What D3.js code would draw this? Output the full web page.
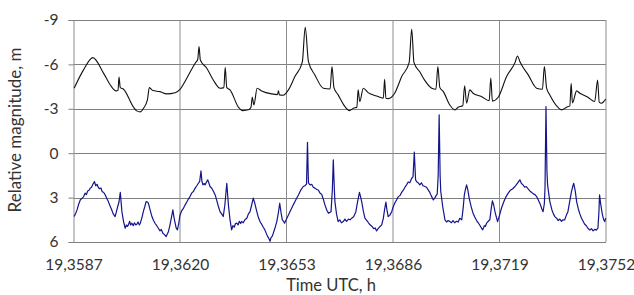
<!doctype html>
<meta charset="utf-8">
<style>
  body { margin: 0; background: #fff; }
  text { font-family: Lato, "Open Sans", sans-serif; fill: #333; }
</style>
<body>
<script src="https://cdn.jsdelivr.net/npm/d3@7"></script>
<script>
// tick values of both axes
var xTicks = [19.3587, 19.3620, 19.3653, 19.3686, 19.3719, 19.3752];
var yTicks = [-9, -6, -3, 0, 3, 6];

// upper trace (black): [time UTC h, relative magnitude m]
var upper = [
  [19.35872,-4.39],[19.35901,-5.63],[19.35930,-6.46],[19.35963,-5.41],[19.35984,-4.61],[19.36002,-4.21],
  [19.36008,-4.25],[19.36011,-5.14],[19.36015,-4.43],[19.36025,-4.32],[19.36056,-3.11],[19.36066,-2.86],
  [19.36077,-2.79],[19.36087,-3.04],[19.36099,-3.6],[19.36105,-4.43],[19.36116,-4.23],[19.36138,-4.16],
  [19.36159,-4.01],[19.36185,-4.09],[19.36200,-4.32],[19.36221,-5.07],[19.36247,-6.08],[19.36255,-6.35],
  [19.36259,-7.2],[19.36263,-6.3],[19.36283,-5.74],[19.36303,-4.95],[19.36324,-4.39],[19.36336,-4.43],
  [19.36340,-5.81],[19.36345,-4.43],[19.36355,-4.28],[19.36381,-3.11],[19.36394,-2.88],[19.36412,-2.93],
  [19.36420,-3.11],[19.36424,-3.78],[19.36429,-3.26],[19.36439,-4.39],[19.36453,-4.21],[19.36484,-4.01],
  [19.36502,-3.96],[19.36505,-4.21],[19.36508,-3.94],[19.36520,-3.92],[19.36536,-4.28],[19.36556,-5.18],
  [19.36579,-6.15],[19.36588,-8.51],[19.36598,-6.19],[19.36618,-5.29],[19.36644,-4.39],[19.36665,-4.34],
  [19.36671,-5.85],[19.36677,-4.43],[19.36690,-3.94],[19.36711,-3.15],[19.36725,-2.88],[19.36737,-3.04],
  [19.36748,-3.11],[19.36752,-4.28],[19.36757,-3.49],[19.36768,-4.39],[19.36783,-4.09],[19.36809,-3.87],
  [19.36830,-3.72],[19.36834,-5.0],[19.36838,-3.71],[19.36845,-3.69],[19.36866,-4.09],[19.36887,-5.18],
  [19.36910,-6.12],[19.36918,-8.38],[19.36925,-6.12],[19.36943,-5.5],[19.36959,-4.9],[19.36980,-4.39],
  [19.36993,-4.32],[19.36999,-5.85],[19.37005,-4.45],[19.37016,-4.16],[19.37036,-3.26],[19.37052,-2.93],
  [19.37062,-3.11],[19.37076,-3.2],[19.37082,-4.55],[19.37088,-3.38],[19.37098,-4.28],[19.37108,-4.05],
  [19.37134,-3.83],[19.37158,-3.55],[19.37163,-5.07],[19.37168,-3.52],[19.37186,-3.78],[19.37212,-5.18],
  [19.37238,-6.12],[19.37246,-6.57],[19.37253,-6.19],[19.37279,-5.29],[19.37305,-4.39],[19.37323,-4.32],
  [19.37329,-5.85],[19.37336,-4.4],[19.37346,-3.94],[19.37367,-3.2],[19.37382,-2.93],[19.37398,-3.11],
  [19.37408,-3.2],[19.37412,-4.73],[19.37416,-3.4],[19.37429,-4.21],[19.37439,-4.05],[19.37464,-3.78],
  [19.37485,-3.49],[19.37494,-4.95],[19.37499,-3.45],[19.37506,-3.38],[19.37519,-3.65]
];

// lower trace (blue)
var lower = [
  [19.35872,4.28],[19.35877,4.05],[19.35881,3.83],[19.35886,3.45],[19.35891,3.16],[19.35896,3.05],[19.35901,2.95],
  [19.35906,2.7],[19.35910,2.8],[19.35914,2.55],[19.35918,2.5],[19.35922,2.36],[19.35926,2.3],[19.35930,2.1],
  [19.35935,1.92],[19.35939,2.2],[19.35943,2.1],[19.35947,2.32],[19.35951,2.4],[19.35955,2.35],[19.35959,2.6],
  [19.35963,2.64],[19.35968,2.8],[19.35973,3.05],[19.35978,3.27],[19.35983,3.55],[19.35988,3.8],[19.35993,4.1],
  [19.35999,4.28],[19.36003,3.95],[19.36007,3.6],[19.36011,3.3],[19.36015,2.64],[19.36020,3.95],[19.36025,4.6],
  [19.36030,5.07],[19.36034,4.85],[19.36037,4.95],[19.36040,4.84],[19.36044,4.6],[19.36047,4.85],[19.36051,4.73],
  [19.36055,4.9],[19.36059,4.7],[19.36063,4.85],[19.36066,4.8],[19.36070,4.65],[19.36074,4.85],[19.36077,4.73],
  [19.36082,4.35],[19.36087,3.9],[19.36091,3.6],[19.36095,3.27],[19.36099,3.3],[19.36102,3.38],[19.36107,3.8],
  [19.36113,4.28],[19.36118,4.55],[19.36123,4.75],[19.36128,4.9],[19.36133,5.07],[19.36138,5.25],[19.36142,5.15],
  [19.36147,5.41],[19.36152,5.5],[19.36157,5.63],[19.36161,5.45],[19.36164,5.3],[19.36168,4.95],[19.36172,4.5],
  [19.36178,3.83],[19.36181,4.3],[19.36185,4.73],[19.36188,5.05],[19.36192,5.18],[19.36196,4.75],[19.36200,4.17],
  [19.36205,3.9],[19.36210,3.75],[19.36216,3.49],[19.36221,3.3],[19.36226,3.1],[19.36231,2.93],[19.36236,2.7],
  [19.36241,2.6],[19.36247,2.36],[19.36252,2.2],[19.36257,2.03],[19.36261,1.9],[19.36265,1.2],[19.36268,1.9],
  [19.36271,2.14],[19.36275,2.05],[19.36278,2.14],[19.36282,1.95],[19.36286,1.8],[19.36290,2.05],[19.36293,2.25],
  [19.36298,2.35],[19.36303,2.55],[19.36309,2.82],[19.36314,3.2],[19.36319,3.6],[19.36324,3.95],[19.36329,4.1],
  [19.36334,4.28],[19.36339,3.5],[19.36345,2.03],[19.36350,3.49],[19.36355,4.5],[19.36360,5.18],[19.36364,4.9],
  [19.36368,5.0],[19.36372,4.75],[19.36376,4.73],[19.36380,4.85],[19.36384,4.6],[19.36388,4.75],[19.36391,4.62],
  [19.36396,4.7],[19.36401,4.5],[19.36407,4.4],[19.36412,4.1],[19.36417,3.95],[19.36422,3.5],[19.36427,3.04],
  [19.36432,3.4],[19.36438,3.95],[19.36443,4.35],[19.36448,4.62],[19.36453,4.8],[19.36458,5.0],[19.36463,5.18],
  [19.36467,5.4],[19.36471,5.6],[19.36475,5.75],[19.36479,5.95],[19.36482,5.7],[19.36486,5.6],[19.36489,5.41],
  [19.36495,5.0],[19.36500,4.62],[19.36505,4.0],[19.36509,3.38],[19.36513,4.0],[19.36517,4.5],[19.36521,4.6],
  [19.36524,4.73],[19.36530,4.45],[19.36536,4.17],[19.36543,3.85],[19.36551,3.49],[19.36559,3.15],[19.36567,2.82],
  [19.36574,2.5],[19.36582,2.25],[19.36587,2.2],[19.36592,2.09],[19.36595,-0.74],[19.36598,2.0],[19.36603,2.15],
  [19.36608,2.1],[19.36613,2.3],[19.36618,2.36],[19.36624,2.45],[19.36629,2.5],[19.36634,2.7],[19.36639,2.77],
  [19.36644,3.1],[19.36649,3.49],[19.36655,3.85],[19.36660,4.05],[19.36664,4.0],[19.36668,3.95],[19.36672,2.5],
  [19.36675,0.45],[19.36678,2.3],[19.36680,3.27],[19.36685,4.1],[19.36690,4.62],[19.36695,4.5],[19.36700,4.7],
  [19.36706,4.62],[19.36711,4.45],[19.36716,4.6],[19.36722,4.45],[19.36727,4.5],[19.36732,4.39],[19.36738,4.3],
  [19.36745,3.95],[19.36750,3.3],[19.36756,2.64],[19.36759,2.9],[19.36763,3.27],[19.36768,3.9],[19.36773,4.39],
  [19.36779,4.55],[19.36784,4.7],[19.36789,4.84],[19.36795,4.95],[19.36800,5.1],[19.36805,5.05],[19.36809,5.25],
  [19.36814,5.1],[19.36820,4.95],[19.36825,4.84],[19.36830,4.4],[19.36834,3.8],[19.36838,3.31],[19.36841,3.8],
  [19.36845,4.28],[19.36850,4.2],[19.36856,3.95],[19.36861,3.6],[19.36866,3.35],[19.36871,3.16],[19.36876,2.95],
  [19.36882,2.85],[19.36887,2.64],[19.36892,2.5],[19.36897,2.3],[19.36902,2.14],[19.36907,1.95],[19.36912,2.0],
  [19.36918,1.69],[19.36922,1.6],[19.36926,-0.07],[19.36930,1.8],[19.36934,1.95],[19.36938,2.0],[19.36943,2.14],
  [19.36948,2.0],[19.36953,2.2],[19.36959,2.25],[19.36964,2.3],[19.36969,2.48],[19.36974,2.65],[19.36979,2.9],
  [19.36985,3.16],[19.36990,3.0],[19.36994,2.85],[19.36997,2.77],[19.37000,1.5],[19.37003,-2.59],[19.37006,1.5],
  [19.37008,2.59],[19.37014,3.6],[19.37021,4.5],[19.37026,4.65],[19.37031,4.55],[19.37036,4.62],[19.37041,4.7],
  [19.37046,4.55],[19.37051,4.7],[19.37057,4.6],[19.37062,4.65],[19.37067,4.4],[19.37073,4.5],[19.37077,3.8],
  [19.37081,2.82],[19.37085,2.4],[19.37088,2.14],[19.37092,2.5],[19.37096,3.04],[19.37102,3.6],[19.37108,4.05],
  [19.37113,4.3],[19.37119,4.55],[19.37125,4.73],[19.37130,4.9],[19.37134,5.05],[19.37138,5.18],[19.37143,4.9],
  [19.37146,4.95],[19.37150,4.73],[19.37155,4.6],[19.37160,4.5],[19.37164,3.8],[19.37168,3.22],[19.37172,3.5],
  [19.37176,3.95],[19.37180,4.3],[19.37184,4.62],[19.37190,4.2],[19.37196,3.72],[19.37203,3.3],[19.37210,2.95],
  [19.37217,2.7],[19.37224,2.5],[19.37231,2.4],[19.37238,2.25],[19.37243,2.1],[19.37248,1.95],[19.37253,1.8],
  [19.37258,2.05],[19.37263,2.14],[19.37268,2.3],[19.37273,2.25],[19.37278,2.4],[19.37284,2.55],[19.37290,2.65],
  [19.37295,2.75],[19.37300,2.8],[19.37305,2.93],[19.37311,3.2],[19.37317,3.49],[19.37321,3.75],[19.37325,3.95],
  [19.37329,3.4],[19.37331,2.36],[19.37334,-3.15],[19.37337,1.2],[19.37339,2.14],[19.37343,2.8],[19.37346,3.27],
  [19.37352,3.8],[19.37357,4.1],[19.37362,4.3],[19.37367,4.39],[19.37372,4.55],[19.37377,4.45],[19.37382,4.6],
  [19.37387,4.5],[19.37392,4.5],[19.37397,4.2],[19.37402,3.95],[19.37408,3.2],[19.37413,2.59],[19.37417,2.25],
  [19.37420,2.03],[19.37425,2.6],[19.37429,3.27],[19.37434,3.75],[19.37439,4.1],[19.37444,4.39],[19.37449,4.6],
  [19.37454,4.8],[19.37459,4.9],[19.37464,5.07],[19.37470,5.2],[19.37475,5.1],[19.37480,5.25],[19.37485,5.15],
  [19.37490,5.2],[19.37495,5.07],[19.37498,4.0],[19.37500,2.82],[19.37504,3.5],[19.37509,4.17],[19.37513,4.5],
  [19.37516,4.62],[19.37519,4.39]
];

var W = 634, H = 295,
    pL = 73.5, pR = 606, pT = 20, pB = 242;

var svg = d3.select('body').append('svg').attr('width', W).attr('height', H);

var x = d3.scaleLinear().domain([19.3587, 19.3752]).range([pL, pR]);
var y = d3.scaleLinear().domain([-9, 6]).range([pT, pB]);

// grid
svg.append('g').selectAll('line')
  .data(yTicks).enter().append('line')
    .attr('x1', pL).attr('x2', pR)
    .attr('y1', function(d){ return Math.round(y(d)) + 0.5; })
    .attr('y2', function(d){ return Math.round(y(d)) + 0.5; })
    .style('stroke', '#7f7f7f').style('stroke-width', 1);

svg.append('g').selectAll('line')
  .data(xTicks.slice(1)).enter().append('line')
    .attr('x1', function(d){ return x(d); }).attr('x2', function(d){ return x(d); })
    .attr('y1', pT).attr('y2', pB)
    .style('stroke', '#8c8c8c').style('stroke-width', 1);

// y axis
var yAxis = svg.append('g')
  .attr('transform', 'translate(' + pL + ',0)')
  .call(d3.axisLeft(y).tickValues(yTicks).tickSize(5).tickPadding(10)
        .tickFormat(function(d){ return String(d); }));
yAxis.select('.domain').style('stroke', '#8c8c8c');
yAxis.selectAll('.tick line').style('stroke', '#7f7f7f');
yAxis.selectAll('text').style('font-size', '15.5px').style('font-family', 'Lato').style('fill', '#333');

// x axis labels
var xAxis = svg.append('g')
  .attr('transform', 'translate(0,' + pB + ')')
  .call(d3.axisBottom(x).tickValues(xTicks).tickSize(0).tickPadding(17)
        .tickFormat(function(d){ return d.toFixed(4).replace('.', ','); }));
xAxis.select('.domain').remove();
xAxis.selectAll('text').style('font-size', '15.5px').style('font-family', 'Lato').style('fill', '#333');

// traces
var lineLower = d3.line()
  .x(function(d){ return x(d[0]); })
  .y(function(d){ return y(d[1]); });

var lineUpper = d3.line()
  .curve(d3.curveMonotoneX)
  .x(function(d){ return x(d[0]); })
  .y(function(d){ return y(d[1]); });

svg.append('path').datum(lower)
  .attr('d', lineLower)
  .style('fill', 'none').style('stroke', '#14148c').style('stroke-width', 1.2)
  .style('stroke-linejoin', 'round');

svg.append('path').datum(upper)
  .attr('d', lineUpper)
  .style('fill', 'none').style('stroke', '#111').style('stroke-width', 1.1)
  .style('stroke-linejoin', 'round');

// titles
svg.append('text').text('Time UTC, h')
  .attr('x', 331).attr('y', 291)
  .style('text-anchor', 'middle').style('font-size', '16.5px');

svg.append('text').text('Relative magnitude, m')
  .attr('transform', 'translate(21,130) rotate(-90)')
  .style('text-anchor', 'middle').style('font-size', '17px');
</script>
</body>
